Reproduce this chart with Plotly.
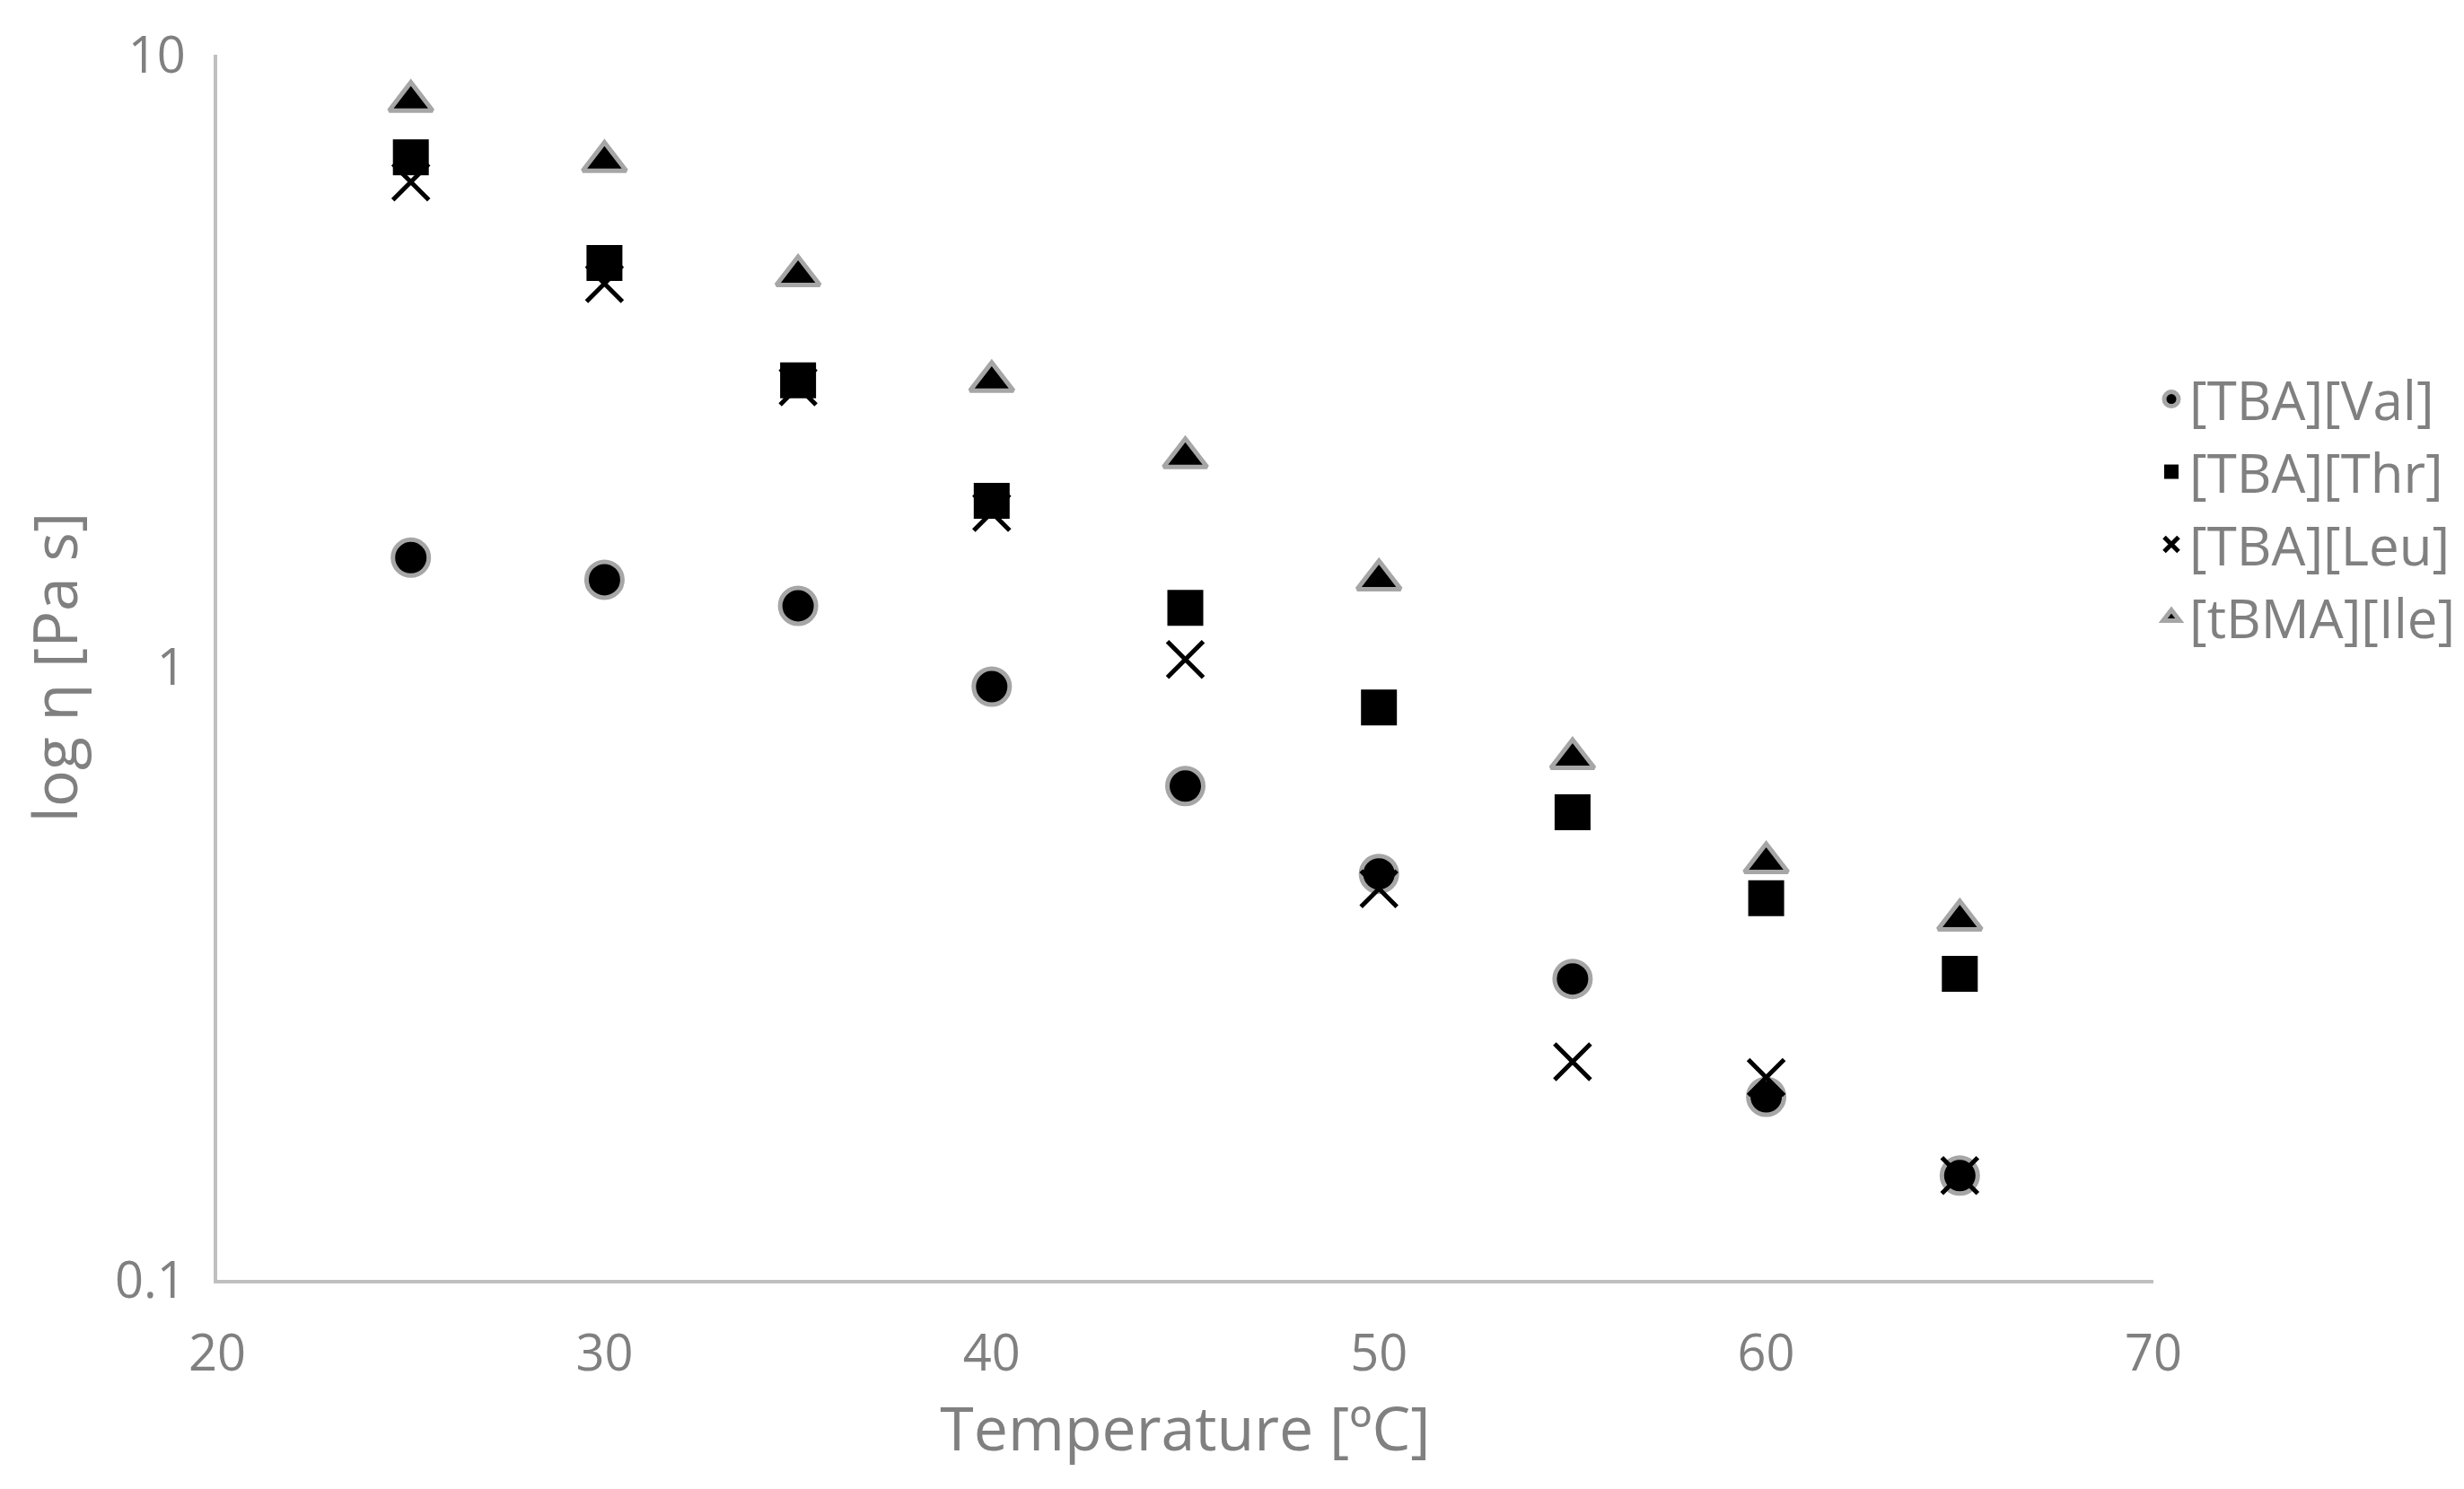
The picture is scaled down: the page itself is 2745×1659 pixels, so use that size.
import plotly.graph_objects as go

temps = [25, 30, 35, 40, 45, 50, 55, 60, 65]
val = [1.51, 1.39, 1.26, 0.93, 0.64, 0.46, 0.31, 0.199, 0.148]
thr = [6.8, 4.57, 2.94, 1.87, 1.25, 0.86, 0.58, 0.42, 0.316]
leu = [6.2, 4.23, 2.87, 1.79, 1.03, 0.435, 0.227, 0.214, 0.148]
ile = [8.4, 6.7, 4.36, 2.93, 2.2, 1.39, 0.71, 0.48, 0.387]

grey = "#808080"
fig = go.Figure()
fig.add_trace(go.Scatter(x=temps, y=val, mode="markers", name="[TBA][Val]",
                         marker=dict(symbol="circle", size=40, color="black",
                                     line=dict(color="#a6a6a6", width=5))))
fig.add_trace(go.Scatter(x=temps, y=thr, mode="markers", name="[TBA][Thr]",
                         marker=dict(symbol="square", size=40, color="black")))
fig.add_trace(go.Scatter(x=temps, y=leu, mode="markers", name="[TBA][Leu]",
                         marker=dict(symbol="x-thin", size=40, color="black",
                                     line=dict(color="black", width=5))))
fig.add_trace(go.Scatter(x=temps, y=ile, mode="markers", name="[tBMA][Ile]",
                         marker=dict(symbol="triangle-up", size=42, color="black",
                                     line=dict(color="#a6a6a6", width=5))))

fig.update_layout(
    width=2745, height=1659,
    paper_bgcolor="white", plot_bgcolor="white",
    margin=dict(l=234, r=300, t=53, b=241),
    font=dict(family="Open Sans", color=grey, size=56),
    xaxis=dict(range=[20, 70], dtick=10, showgrid=False, zeroline=False,
               showline=True, linecolor="#bfbfbf", linewidth=4,
               title=dict(text="Temperature [ºC]", font=dict(size=68), standoff=15),
               tickfont=dict(size=56), ticks="outside", ticklen=30, tickcolor="white"),
    yaxis=dict(type="log", range=[-1, 1], tickvals=[0.1, 1, 10],
               ticktext=["0.1", "1", "10"], showgrid=False, zeroline=False,
               showline=True, linecolor="#bfbfbf", linewidth=4,
               title=dict(text="log η [Pa s]", font=dict(size=68), standoff=20),
               tickfont=dict(size=56), ticks="outside", ticklen=20, tickcolor="white"),
    legend=dict(x=1.0, y=0.63, yanchor="middle", font=dict(size=60),
                itemsizing="trace", tracegroupgap=45),
    showlegend=True,
)
fig.write_html("out.html")
